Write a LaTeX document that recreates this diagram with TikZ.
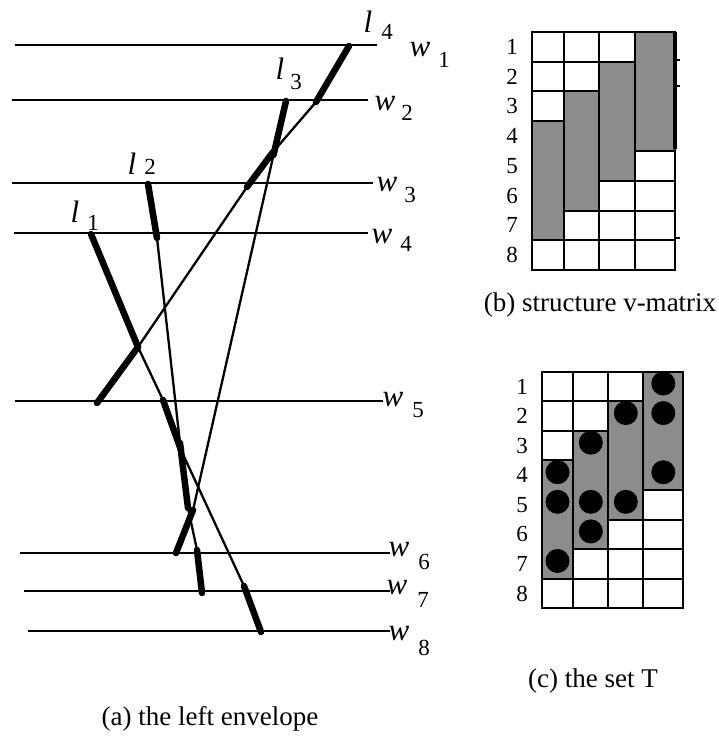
\documentclass[tikz,border=0pt]{standalone}
\usepackage{fontspec}
\setmainfont{Liberation Serif}
\begin{document}
\begin{tikzpicture}[x=1pt,y=-1pt,
  hline/.style={line width=2.1pt},
  thin/.style={line width=2.3pt, line join=round},
  thk/.style={line width=6.5pt, line cap=round},
  lab/.style={inner sep=0pt, font=\fontsize{31}{33}\selectfont\itshape},
  sub/.style={inner sep=0pt, font=\fontsize{23}{25}\selectfont},
  rowno/.style={inner sep=0pt, font=\fontsize{23}{25}\selectfont},
  capt/.style={inner sep=0pt, font=\fontsize{27}{30}\selectfont},
  cell/.style={draw=black, fill=white, line width=2pt},
  shd/.style={draw=black, fill=black!45, line width=2pt},
  dot/.style={fill=black, draw=none}]
\useasboundingbox (0,0) rectangle (719,744);

% horizontal lines w_i
\foreach \i/\xa/\xb/\y in {1/15/377/45, 2/12/368/100, 3/12/373/183, 4/14/368/233,
                            5/15/383/401, 6/20/390/553, 7/24/390/591, 8/28/390/631}{
  \draw[hline] (\xa,\y) coordinate (wa\i) -- (\xb,\y) coordinate (wb\i);
}
% labels w_i
\foreach \i/\wx/\wy/\sx/\sy in {1/420/50/444/60, 2/385/104/407/113, 3/387/185/410/195,
   4/382/237/406/244, 5/393/400/418/410, 6/399/550/424/562, 7/397/588/423/600,
   8/399/634/424/648}{
  \node[lab] (wl\i) at (\wx,\wy) {w};
  \node[sub] (ws\i) at (\sx,\sy) {\i};
}
% labels l_i
\foreach \i/\lx/\ly/\sx/\sy in {4/368/22/387/32, 3/280/69/296/82, 2/132/164/150/167,
   1/75/212/93/223}{
  \node[lab] (ll\i) at (\lx,\ly) {l};
  \node[sub] (ls\i) at (\sx,\sy) {\i};
}

% line l1
\coordinate (a1) at (91,234);  \coordinate (a2) at (138,347);
\coordinate (a3) at (163,400); \coordinate (a4) at (181,450);
\coordinate (a5) at (244,586); \coordinate (a6) at (261,632);
\draw[thin] (a1) -- (a2) -- (a3) -- (a4) -- (a5) -- (a6);
\draw[thk] (a1) -- (a2); \draw[thk] (a3) -- (a4); \draw[thk] (a5) -- (a6);

% line l2
\coordinate (b1) at (148,184); \coordinate (b2) at (157,238);
\coordinate (b3) at (180,443); \coordinate (b4) at (188,508);
\coordinate (b5) at (197,550); \coordinate (b6) at (202,593);
\draw[thin] (b1) -- (b2) -- (b3) -- (b4) -- (b5) -- (b6);
\draw[thk] (b1) -- (b2); \draw[thk] (b3) -- (b4); \draw[thk] (b5) -- (b6);

% line l3
\coordinate (c1) at (286,101); \coordinate (c2) at (273.5,155);
\coordinate (c3) at (193,510); \coordinate (c4) at (176,553);
\draw[thin] (c1) -- (c2) -- (c3) -- (c4);
\draw[thk] (c1) -- (c2); \draw[thk] (c3) -- (c4);

% line l4
\coordinate (d1) at (349,46);  \coordinate (d2) at (316,102);
\coordinate (d3) at (273,152); \coordinate (d4) at (247,187);
\coordinate (d5) at (138,347); \coordinate (d6) at (97,403);
\draw[thin] (d1) -- (d2) -- (d3) -- (d4) -- (d5) -- (d6);
\draw[thk] (d1) -- (d2); \draw[thk] (d3) -- (d4); \draw[thk] (d5) -- (d6);

% (b) structure v-matrix
\foreach \c/\xa/\xb in {1/531.7/564, 2/564/599.3, 3/599.3/635, 4/635/675}{
  \foreach \r in {1,...,8}{
    \draw[cell] (\xa,{31.7+(\r-1)*29.8}) rectangle (\xb,{31.7+\r*29.8});
  }
}
\foreach \c/\xa/\xb in {1/531.7/564, 2/564/599.3, 3/599.3/635, 4/635/675}{
  \draw[shd] (\xa,{31.7+(4-\c)*29.8}) rectangle (\xb,{31.7+(8-\c)*29.8});
}
\draw[line width=3.8pt] (675,31.7) -- (675,148.9);
\draw[line width=1.6pt] (675,60) -- (680,60) (675,86) -- (680,86) (675,238.1) -- (680,238.1);
\foreach \r in {1,...,8}{
  \node[rowno] (rb\r) at (512,{31.7+(\r-0.5)*29.8}) {\r};
}
\node[capt] (capb) at (600,305) {(b) structure v-matrix};

% (c) the set T
\foreach \c/\xa/\xb in {1/541.7/573.3, 2/573.3/608.3, 3/608.3/643.3, 4/643.3/683.3}{
  \foreach \r in {1,...,8}{
    \draw[cell] (\xa,{371.7+(\r-1)*29.58}) rectangle (\xb,{371.7+\r*29.58});
  }
}
\foreach \c/\xa/\xb in {1/541.7/573.3, 2/573.3/608.3, 3/608.3/643.3, 4/643.3/683.3}{
  \draw[shd] (\xa,{371.7+(4-\c)*29.58}) rectangle (\xb,{371.7+(8-\c)*29.58});
}
\foreach \x/\r in {663.3/1, 663.3/2, 663.3/4, 625.8/2, 625.8/5, 590.8/3, 590.8/5,
                   590.8/6, 557.5/4, 557.5/5, 557.5/7}{
  \fill[dot] (\x,{371.7+(\r-0.5)*29.58-3}) circle (12);
}
\foreach \r in {1,...,8}{
  \node[rowno] (rc\r) at (522,{371.7+(\r-0.5)*29.58}) {\r};
}
\node[capt] (capc) at (593,681) {(c) the set T};

% caption (a)
\node[capt] (capa) at (210,719) {(a) the left envelope};
\end{tikzpicture}
\end{document}
